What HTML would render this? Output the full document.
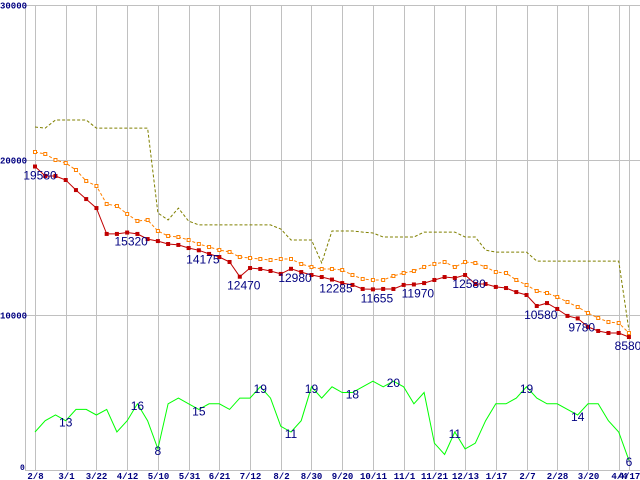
<!DOCTYPE html>
<html><head><meta charset="utf-8"><style>
html,body{margin:0;padding:0;background:#fff;}
svg{display:block;}
</style></head><body>
<svg id="chart" width="640" height="480" xmlns="http://www.w3.org/2000/svg" font-family="Liberation Sans, sans-serif">
<g id="grid"></g>
<g id="series"></g>
<g id="labels"></g>
</svg>
<script>
const xLabels = ["2/8","3/1","3/22","4/12","5/10","5/31","6/21","7/12","8/2","8/30","9/20","10/11","11/1","11/21","12/13","1/17","2/7","2/28","3/20","4/4","4/17"];
const yTicks = [0,10000,20000,30000];
const priceValues = [19580,18970,18970,18710,18060,17480,16900,15230,15230,15320,15230,14900,14770,14580,14520,14320,14175,13940,13740,13420,12470,13030,12970,12840,12650,12980,12770,12580,12450,12285,12060,11940,11680,11655,11680,11680,11940,11970,12060,12260,12450,12390,12580,12000,12000,11810,11740,11480,11290,10580,10770,10390,9940,9780,9230,8970,8840,8840,8580];
const avgValues = [20516,20387,20000,19806,19355,18645,18323,17161,17032,16516,16065,16129,15419,15097,15032,14839,14581,14387,14194,14065,13742,13677,13613,13548,13613,13613,13290,13097,12968,12968,12903,12581,12323,12258,12258,12516,12710,12839,13097,13290,13419,13097,13419,13355,13097,12774,12710,12258,11935,11548,11419,11161,10839,10516,10129,9806,9548,9484,8839];
const maxValues = [22130,22060,22580,22580,22580,22580,22060,22060,22060,22060,22060,22060,16580,16130,16900,16060,15810,15810,15810,15810,15810,15810,15810,15810,15550,14840,14840,14840,13360,15420,15420,15420,15350,15290,15030,15030,15030,15030,15350,15350,15350,15350,15030,15030,14190,14060,14060,14060,14060,13480,13480,13480,13480,13480,13480,13480,13480,13480,9030];
const countValues = [11,13,14,13,15,15,14,15,11,13,16,13,8,16,17,16,15,16,16,15,17,17,19,17,12,11,13,19,17,19,18,18,19,20,19,20,19,16,18,9,7,11,8,9,13,16,16,17,19,17,16,16,15,14,16,16,13,11,6];
const priceLabelIdx = [0,9,16,20,25,29,33,37,42,49,53,58];
const countLabelIdx = [3,10,12,16,22,25,27,31,35,41,48,53,58];

const NS="http://www.w3.org/2000/svg";
const X0=35, DX=10.24;
function xPos(i){return X0+i*DX;}
function yPrice(v){return 470-v*155/10000;}
function yCount(v){return 494-v*5.64;}
function mk(tag,attrs,parent){const e=document.createElementNS(NS,tag);for(const k in attrs)e.setAttribute(k,attrs[k]);parent.appendChild(e);return e;}
const grid=document.getElementById('grid'), ser=document.getElementById('series'), lab=document.getElementById('labels');

// horizontal grid
yTicks.forEach(v=>{
  const y=Math.round(yPrice(v))+0.5;
  const l=mk('line',{x1:25,x2:640,y1:y,y2:y,stroke:'#c0c0c0','stroke-width':1},grid);
  
  
  const t=mk('text',{x:v===0?20:0,y:v===0?470:y+3,'font-size':v===0?8:9,'font-weight':'bold',fill:'#000080','font-family':'Liberation Mono, monospace'},lab);
  t.textContent=String(v);
  
  
});
const ax=mk('line',{x1:25.5,x2:25.5,y1:5,y2:471,stroke:'#c0c0c0','stroke-width':1},grid);


// vertical grid
xLabels.forEach((s,k)=>{
  const i=k<20?k*3:58;
  const x=Math.round(xPos(i))+0.5;
  const l=mk('line',{x1:x,x2:x,y1:5,y2:471,stroke:'#c0c0c0','stroke-width':1},grid);
  
  
  const t=mk('text',{x:x,y:479,'font-size':9,'font-weight':'bold',fill:'#000080','text-anchor':'middle','font-family':'Liberation Mono, monospace'},lab);
  t.textContent=s;
  
  
});

function pts(arr,yf){return arr.map((v,i)=>xPos(i).toFixed(1)+','+yf(v).toFixed(1)).join(' ');}
const maxL=mk('polyline',{points:pts(maxValues,yPrice),fill:'none',stroke:'#808000','stroke-width':1,'stroke-dasharray':'3,2'},ser);


const avgL=mk('polyline',{points:pts(avgValues,yPrice),fill:'none',stroke:'#ff8000','stroke-width':1,'stroke-dasharray':'3,2'},ser);


avgValues.forEach((v,i)=>{
  const r=mk('rect',{x:xPos(i)-1.5,y:yPrice(v)-1.5,width:3,height:3,fill:'#fff',stroke:'#ff8000','stroke-width':1},ser);
  
  
});
const prL=mk('polyline',{points:pts(priceValues,yPrice),fill:'none',stroke:'#c00000','stroke-width':1},ser);


priceValues.forEach((v,i)=>{
  const r=mk('rect',{x:xPos(i)-2,y:yPrice(v)-2,width:4,height:4,fill:'#c00000'},ser);
  
  
});
const cL=mk('polyline',{points:pts(countValues,yCount),fill:'none',stroke:'#00ff00','stroke-width':1},ser);



priceLabelIdx.forEach(i=>{
  const x=xPos(i), y=yPrice(priceValues[i]);
  const t=mk('text',{x:i===58?Math.min(x,628):(i===0?x+5:x+4),y:y+13,'font-size':12,fill:'#000080','text-anchor':'middle'},lab);
  t.textContent=String(priceValues[i]);
  
  
});
countLabelIdx.forEach(i=>{
  const x=xPos(i), y=yCount(countValues[i]);
  const t=mk('text',{x:x,y:y+6,'font-size':12,fill:'#000080','text-anchor':'middle'},lab);
  t.textContent=String(countValues[i]);
  
  
});
</script>
</body></html>
